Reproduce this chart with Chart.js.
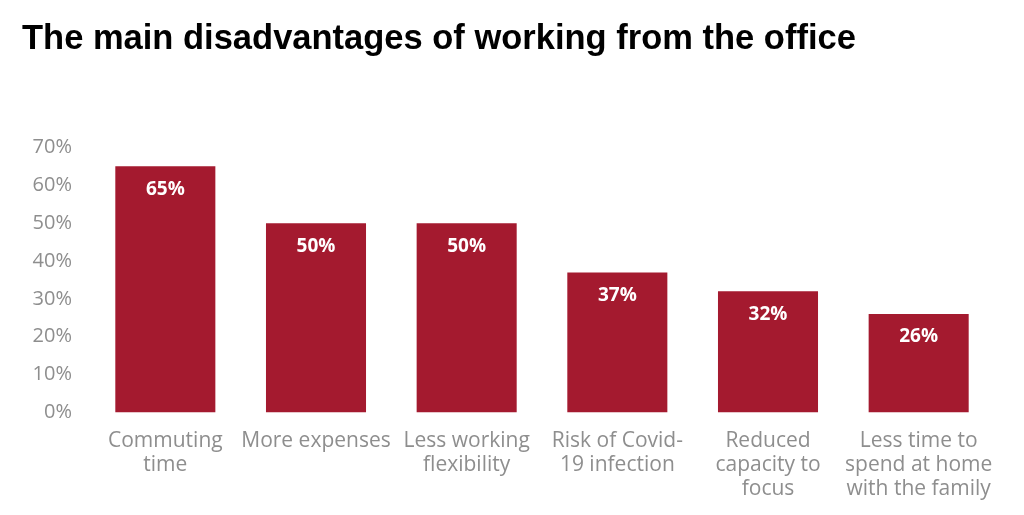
<!DOCTYPE html>
<html>
<head>
<meta charset="utf-8">
<script src="https://cdn.jsdelivr.net/npm/chart.js@4"></script>
<style>
  html, body { margin: 0; padding: 0; background: #fff; }
  #wrap { width: 1024px; height: 515px; }
</style>
</head>
<body>
<div id="wrap"><canvas id="chart"></canvas></div>
<script>
// categories (multi-line, as on the picture)
const categories = [
  ["Commuting", "time"],
  ["More expenses"],
  ["Less working", "flexibility"],
  ["Risk of Covid-", "19 infection"],
  ["Reduced", "capacity to", "focus"],
  ["Less time to", "spend at home", "with the family"]
];
// share of respondents (%)
const values = [65, 50, 50, 37, 32, 26];
// y axis ticks
const yTicks = [0, 10, 20, 30, 40, 50, 60, 70];

const barColor = "#a41a2f";
const tickColor = "#8e8e8e";

// white % labels inside the top of each bar
const valueLabels = {
  id: "valueLabels",
  afterDatasetsDraw(chart) {
    const ctx = chart.ctx;
    const meta = chart.getDatasetMeta(0);
    ctx.save();
    ctx.font = 'bold 19px "Open Sans"';
    ctx.fillStyle = "#ffffff";
    ctx.textAlign = "center";
    ctx.textBaseline = "middle";
    meta.data.forEach((bar, i) => {
      ctx.fillText(values[i] + "%", bar.x, bar.y + 23);
    });
    ctx.restore();
  }
};

const ctx = document.getElementById("chart").getContext("2d");
new Chart(ctx, {
  type: "bar",
  data: {
    labels: categories,
    datasets: [{
      data: values,
      backgroundColor: barColor,
      borderWidth: 0,
      barPercentage: 0.664,
      categoryPercentage: 1
    }]
  },
  options: {
    responsive: true,
    maintainAspectRatio: false,
    devicePixelRatio: 1,
    animation: false,
    layout: { padding: { left: 22, right: 30, top: 0, bottom: 6 } },
    plugins: {
      legend: { display: false },
      tooltip: { enabled: false },
      title: {
        display: true,
        text: "The main disadvantages of working from the office",
        align: "start",
        color: "#000",
        font: { family: '"Liberation Sans", Arial, sans-serif', size: 34.5, weight: "bold" },
        padding: { top: 19, bottom: 87 }
      }
    },
    scales: {
      x: {
        grid: { display: false },
        border: { display: false },
        ticks: {
          color: tickColor,
          font: { family: '"Open Sans", sans-serif', size: 21, lineHeight: 1.15 },
          maxRotation: 0,
          autoSkip: false,
          padding: 8
        }
      },
      y: {
        min: 0,
        max: 70,
        afterFit(scale) { scale.width = 68; },
        afterBuildTicks(scale) { scale.ticks = yTicks.map(v => ({ value: v })); },
        grid: { display: false },
        border: { display: false },
        ticks: {
          color: tickColor,
          font: { family: '"Open Sans", sans-serif', size: 20 },
          padding: 10,
          callback: v => v + "%"
        }
      }
    }
  },
  plugins: [valueLabels]
});
</script>
</body>
</html>
